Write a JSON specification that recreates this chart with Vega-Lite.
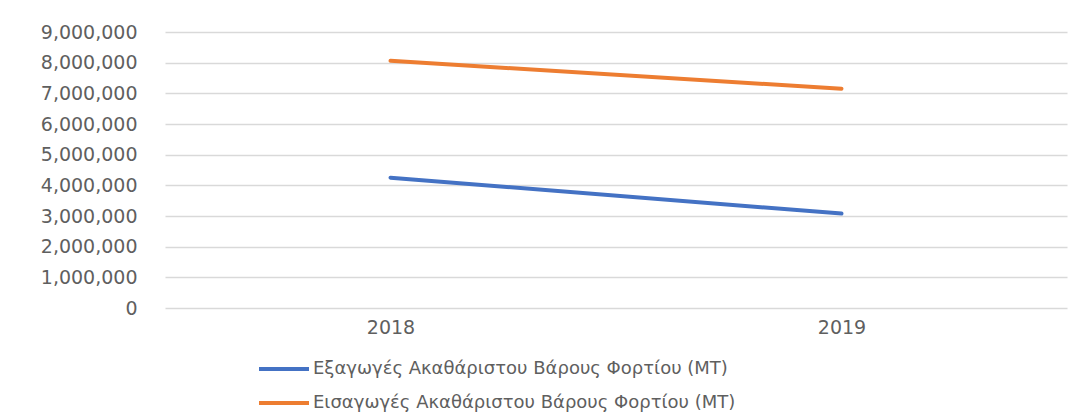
{
  "$schema": "https://vega.github.io/schema/vega-lite/v6.json",
  "autosize": {"type": "none"},
  "padding": {"left": 165, "top": 32, "right": 18, "bottom": 111},
  "width": 902,
  "height": 276,
  "background": "white",
  "config": {"view": {"stroke": null}, "font": "DejaVu Sans"},
  "data": {
    "values": [
      {"year": "2018", "series": "Εξαγωγές Ακαθάριστου Βάρους Φορτίου (MT)", "value": 4250000},
      {"year": "2019", "series": "Εξαγωγές Ακαθάριστου Βάρους Φορτίου (MT)", "value": 3080000},
      {"year": "2018", "series": "Εισαγωγές Ακαθάριστου Βάρους Φορτίου (MT)", "value": 8060000},
      {"year": "2019", "series": "Εισαγωγές Ακαθάριστου Βάρους Φορτίου (MT)", "value": 7150000}
    ]
  },
  "mark": {"type": "line", "strokeWidth": 4, "strokeCap": "round"},
  "encoding": {
    "x": {
      "field": "year", "type": "ordinal", "title": null,
      "scale": {"type": "point", "padding": 0.5},
      "axis": {"labelAngle": 0, "ticks": false, "domain": false, "grid": false, "labelPadding": 10, "labelFontSize": 19, "labelColor": "#5f5f5f", "labelFont": "DejaVu Sans"}
    },
    "y": {
      "field": "value", "type": "quantitative", "title": null,
      "scale": {"domain": [0, 9000000], "nice": false},
      "axis": {"values": [0, 1000000, 2000000, 3000000, 4000000, 5000000, 6000000, 7000000, 8000000, 9000000], "format": ",d", "ticks": false, "domain": false, "grid": true, "gridColor": "#d9d9d9", "gridWidth": 1.5, "labelPadding": 28, "labelFontSize": 19, "labelColor": "#5f5f5f", "labelFont": "DejaVu Sans"}
    },
    "color": {
      "field": "series", "type": "nominal", "title": null,
      "scale": {"domain": ["Εξαγωγές Ακαθάριστου Βάρους Φορτίου (MT)", "Εισαγωγές Ακαθάριστου Βάρους Φορτίου (MT)"], "range": ["#4472C4", "#ED7D31"]},
      "legend": {"orient": "none", "legendX": 107, "legendY": 325, "direction": "vertical", "symbolType": "M-2.5,0H2.5", "symbolSize": 400, "symbolStrokeWidth": 4, "labelOffset": 17, "rowPadding": 13, "labelFontSize": 18, "labelColor": "#5f5f5f", "labelFont": "DejaVu Sans", "labelLimit": 0}
    }
  }
}
